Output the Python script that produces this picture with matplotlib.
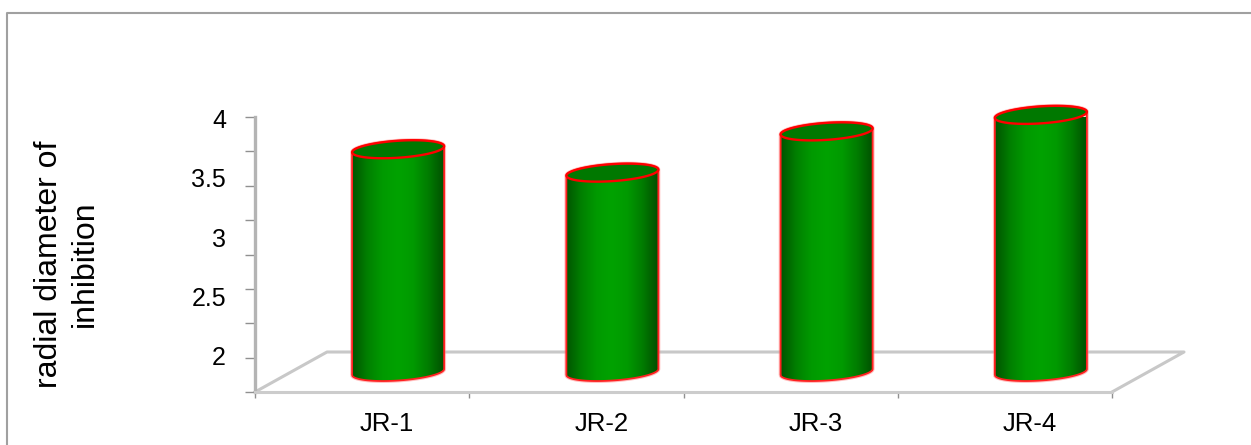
# -*- coding: utf-8 -*-
# Cylinder chart of radial diameter of inhibition for the four JR samples
import numpy as np
import matplotlib
matplotlib.use('Agg')
import matplotlib.pyplot as plt
from matplotlib.colors import LinearSegmentedColormap
from matplotlib.lines import Line2D
from matplotlib.patches import PathPatch
from matplotlib.path import Path

plt.rcParams['font.family'] = ['Liberation Sans', 'DejaVu Sans']

samples = ['JR-1', 'JR-2', 'JR-3', 'JR-4']
diameter = [3.62, 3.45, 3.75, 3.87]
y_labels = ['4', '3.5', '3', '2.5', '2']
y_ticks = [2, 2.25, 2.5, 2.75, 3, 3.25, 3.5, 3.75, 4]

W, H = 1251, 445
fig = plt.figure(figsize=(W/100, H/100), dpi=100, facecolor='white')
# only the top and left edges of the frame are visible
fig.add_artist(Line2D([6.5/W, 6.5/W, 1], [0, 1 - 13/H, 1 - 13/H], transform=fig.transFigure,
                      color='#a0a0a0', lw=1.5))

# axes box is the front plane of the 3d chart
x0, x1, y_top, y_bot = 255, 1112, 117, 392
ax = fig.add_axes([x0/W, 1 - y_bot/H, (x1-x0)/W, (y_bot-y_top)/H])
ax.patch.set_alpha(0)
px_x = (x1-x0)/4
px_y = (y_bot-y_top)/2

# floor, drawn in axis units
depth_x = 72/px_x
depth_y = 40/px_y
ax.plot([0, depth_x, 4+depth_x, 4], [2, 2+depth_y, 2+depth_y, 2], color='#c8c8c8', lw=2.2, clip_on=False, zorder=1)

for s in ['top', 'right']:
    ax.spines[s].set_visible(False)
ax.spines['left'].set_color('#b4b4b4')
ax.spines['left'].set_linewidth(2.4)
ax.spines['bottom'].set_color('#cccccc')
ax.spines['bottom'].set_linewidth(2.2)

ax.set_xticks(range(5))
ax.set_yticks(y_ticks)
ax.set_xticklabels([])
ax.set_yticklabels([])
ax.tick_params(axis='x', length=4.5, width=1, color='#909090')
ax.tick_params(axis='y', length=7, width=1, color='#909090')

# tick text sits off the tick marks on this chart
for i, lab in enumerate(y_labels):
    ax.text(-29/px_x, 4 - 4/px_y - i*59.3/px_y, lab, ha='right', va='center', fontsize=18, color='black')
for i, lab in enumerate(samples):
    ax.text(i + 0.5 + 25/px_x, 2 - 32/px_y, lab, ha='center', va='center', fontsize=18.5, color='black')

cmap = LinearSegmentedColormap.from_list('cyl', ['#005400', '#008000', '#009a00', '#00a200', '#009a00', '#007c00', '#005000'])
grad = np.linspace(0, 1, 256).reshape(1, -1)

rx = 46/px_x
ry = 8.5/px_y
slant = 3/px_y
t = np.linspace(0, 2*np.pi, 121)

for i, v in enumerate(diameter):
    cx = i + 0.5 + depth_x/2
    base = 2 + depth_y/2
    top = v + depth_y/2

    # body outline: lower half of the base ellipse, up the side, back along the top
    low = t[60:121]
    hi = t[:61]
    bx = cx + rx*np.cos(low)
    by = base + ry*np.sin(low) + slant*np.cos(low)
    tx = cx + rx*np.cos(hi)
    ty = top + ry*np.sin(hi) + slant*np.cos(hi)
    verts = np.column_stack([np.r_[bx, tx], np.r_[by, ty]])
    outline = Path(np.vstack([verts, verts[0]]))
    body = PathPatch(outline, facecolor='none', edgecolor='none')
    ax.add_patch(body)
    im = ax.imshow(grad, extent=[cx-rx, cx+rx, base-2*ry, top+2*ry], aspect='auto', cmap=cmap, zorder=3)
    im.set_clip_path(body)
    # soft glow under the red edge
    ax.add_patch(PathPatch(outline, facecolor='none', edgecolor='#ff8080', lw=2.8, alpha=0.5, zorder=2.9,
                           joinstyle='round', clip_on=False))
    ax.add_patch(PathPatch(outline, facecolor='none', edgecolor='#ff2020', lw=1.3, zorder=4,
                           joinstyle='round', clip_on=False))
    ax.fill(cx + rx*np.cos(t), top + ry*np.sin(t) + slant*np.cos(t), facecolor='#007800', edgecolor='#ff0000',
            lw=1.7, zorder=5, clip_on=False)

ax.set_xlim(0, 4)
ax.set_ylim(2, 4)

fig.text(49/W, 1 - 264/H, 'radial diameter of', rotation=90, ha='center', va='center', fontsize=23, color='black')
fig.text(85/W, 1 - 264/H, 'inhibition', rotation=90, ha='center', va='center', fontsize=23, color='black')

fig.savefig('out.png', dpi=100)
